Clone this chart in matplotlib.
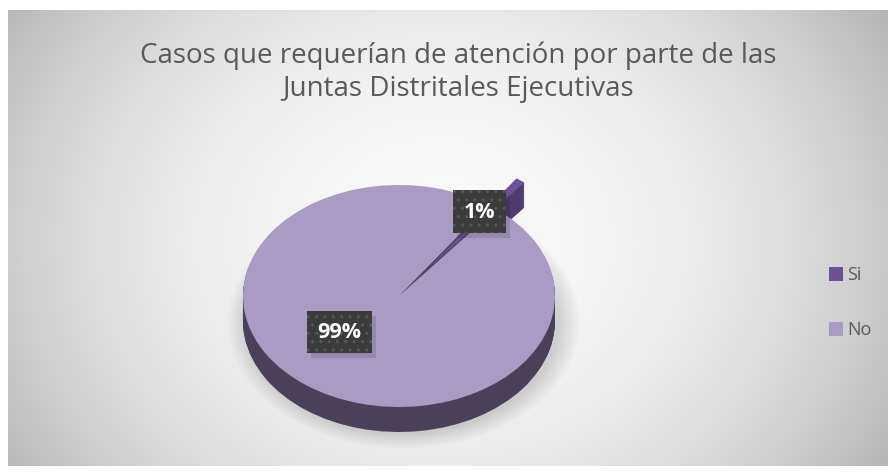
import numpy as np
import matplotlib
matplotlib.use("Agg")
import matplotlib.pyplot as plt
from matplotlib.patches import Rectangle

# data
labels = ["Si", "No"]
values = [1, 99]
pct_text = ["1%", "99%"]

top_colors = ["#6c5294", "#a99bc4"]
side_colors = ["#4f3b6e", "#4a4059"]
explode = [0.3, 0.0]

W, H = 888, 477
fig = plt.figure(figsize=(W / 100, H / 100), dpi=100)
fig.patch.set_facecolor("white")

# background panel with radial gradient
bg = fig.add_axes([8 / W, 1 - 467 / H, 880 / W, 456 / H])
yy, xx = np.mgrid[0:456, 0:880]
r = np.sqrt(((xx - 432) / 500.0) ** 2 + ((yy - 230) / 420.0) ** 2)
shade = 249 - 62 * np.clip(r, 0, 1.2) ** 2.2
img = np.dstack([shade, shade, shade]) / 255.0
bg.imshow(np.clip(img, 0, 1), aspect="auto", interpolation="bilinear")
bg.set_axis_off()

# title
fig.text(458 / W, 1 - 72 / H,
         "Casos que requerían de atención por parte de las\nJuntas Distritales Ejecutivas",
         ha="center", va="center", fontsize=20, color="#595959",
         family="Open Sans", linespacing=1.25)

# pie axes: radius 1 -> 156 px wide, 111 px tall
cx, cy = 399, 297
a_px, b_px = 156, 111
aw, ah = 400, 310
ax = fig.add_axes([(cx - aw / 2) / W, 1 - (cy + ah / 2) / H, aw / W, ah / H])
ax.set_axis_off()

# soft shadow under the pie
t = np.linspace(0, 2 * np.pi, 200)
for k in range(12):
    s = 1.0 + 0.012 * k
    ax.fill(0.03 + s * np.cos(t), -0.24 + s * np.sin(t),
            color="#000000", alpha=0.012, lw=0)

# stacked pies give the 3d side
depth = 25 / b_px
start = 55
n_layers = 26
for i, d in enumerate(np.linspace(depth, 0.0, n_layers)):
    cols = side_colors if i < n_layers - 1 else top_colors
    ax.pie(values, colors=cols, explode=explode, startangle=start,
           counterclock=False, center=(0, -d), radius=1,
           wedgeprops=dict(linewidth=0, antialiased=True))

ax.set_aspect("auto")
ax.set_xlim(-aw / (2 * a_px), aw / (2 * a_px))
ax.set_ylim(-ah / (2 * b_px), ah / (2 * b_px))

# data labels
tot = float(sum(values))
label_r = [0.92, 0.50]
label_shift = [2.5, -13.0]
label_objs = []
ang = start
for v, txt, lr, sh in zip(values, pct_text, label_r, label_shift):
    sweep = 360 * v / tot
    mid = np.deg2rad(ang - sweep / 2 + sh)
    ang -= sweep
    x, y = lr * np.cos(mid), lr * np.sin(mid)
    lt = ax.text(x, y, txt, color="white", zorder=10, ha="center",
                 va="center", fontsize=15.5, fontweight="bold",
                 family="Open Sans",
                 bbox=dict(boxstyle="square,pad=0.5", fc="#3b3b3b",
                           ec="#575757", lw=0, hatch=".."))
    label_objs.append(lt)

# legend in pixel coords
lax = fig.add_axes([0, 0, 1, 1])
lax.set_xlim(0, W)
lax.set_ylim(0, H)
lax.set_axis_off()
lax.patch.set_alpha(0)
for lab, col, ly in zip(labels, top_colors, [275, 330]):
    lax.add_patch(Rectangle((829, H - ly - 7), 14, 14, color=col, lw=0))
    lax.text(847, H - ly, lab, ha="left", va="center", fontsize=13,
             color="#595959", family="Open Sans")

# soft shadow behind label boxes
fig.canvas.draw()
for lt in label_objs:
    ext = lt.get_bbox_patch().get_window_extent()
    shadow = Rectangle((ext.x0 + 4, ext.y0 - 5), ext.width, ext.height,
                       transform=None, fc="#000000", alpha=0.12, lw=0,
                       zorder=9)
    ax.add_artist(shadow)

fig.savefig("out.png", dpi=100)
